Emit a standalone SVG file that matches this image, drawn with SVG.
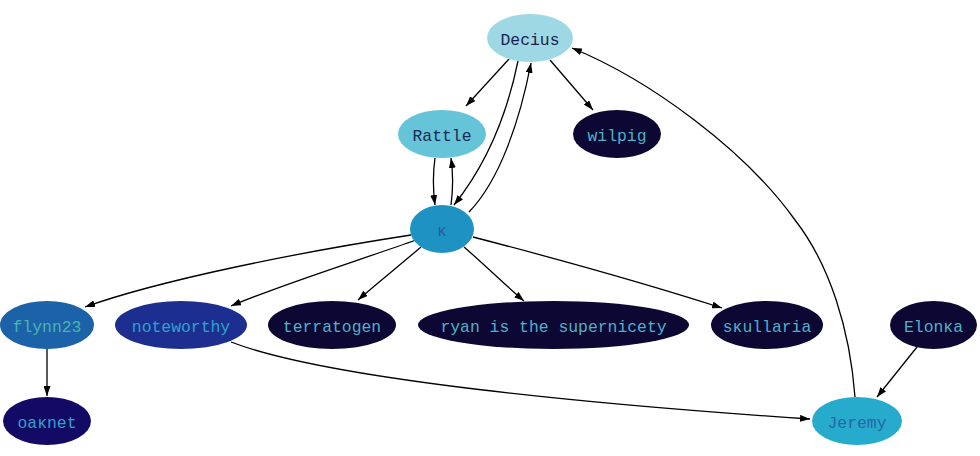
<svg xmlns="http://www.w3.org/2000/svg" width="980" height="456" viewBox="0 0 980 456">
<defs>
<marker id="ah" markerWidth="10" markerHeight="7" refX="10" refY="3.5" orient="auto" markerUnits="userSpaceOnUse">
<path d="M0,0 L10,3.5 L0,7 z" fill="#000"/>
</marker>
<style>
text{font-family:"Liberation Mono","Courier New",monospace;font-size:16.4px;text-anchor:middle;dominant-baseline:central}
.e path{fill:none;stroke:#000;stroke-width:1.3;marker-end:url(#ah)}
.dk{fill:#0c0833}
.lt{fill:#4fb1c9}
</style>
</defs>
<rect width="980" height="456" fill="#fff"/>
<g class="e" id="edges">
<path d="M509,59 L466,106"/>
<path d="M550,60 L593,110"/>
<path d="M518,61 C508,110 490,160 454,205"/>
<path d="M469,212 C500,180 520,120 531,63"/>
<path d="M435,158 C433,172 433,190 435,205"/>
<path d="M451,205 C453,190 453,172 451,158"/>
<path d="M411,235 C300,252 160,280 85,307"/>
<path d="M416,240 C360,260 280,285 231,306"/>
<path d="M421,247 C400,265 375,285 358,300"/>
<path d="M464,247 C485,265 505,285 524,301"/>
<path d="M473,237 C550,257 650,285 722,308"/>
<path d="M47,349 L47,396"/>
<path d="M231,342 C330,380 600,405 810,419"/>
<path d="M917,347 L877,397"/>
<path d="M855,397 C850,330 830,265 795,220 C745,150 650,80 572,48"/>
</g>
<g id="Decius"><ellipse cx="530" cy="38" rx="43" ry="24" fill="#9dd8e4"/><text x="530" y="40" fill="#1a1f4e">Decius</text></g>
<g id="Rattle"><ellipse cx="442" cy="134" rx="44" ry="24" fill="#66c4d8"/><text x="442" y="136" fill="#1a2a55">Rattle</text></g>
<g id="wilpig"><ellipse cx="617" cy="134" rx="44" ry="24" class="dk"/><text x="617" y="136" class="lt">wilpig</text></g>
<g id="kra"><ellipse cx="442" cy="229" rx="32" ry="24" fill="#1e93c3"/><text x="442" y="231" fill="#2a5aa6">ĸ</text></g>
<g id="flynn23"><ellipse cx="47" cy="325" rx="47" ry="24" fill="#1c62a8"/><text x="47" y="327" fill="#47b5ae">flynn23</text></g>
<g id="noteworthy"><ellipse cx="181" cy="325" rx="66" ry="24" fill="#1c2f91"/><text x="181" y="327" fill="#2ea2cc">noteworthy</text></g>
<g id="terratogen"><ellipse cx="332" cy="325" rx="64" ry="24" class="dk"/><text x="332" y="327" class="lt">terratogen</text></g>
<g id="ryan"><ellipse cx="553.5" cy="325" rx="135.5" ry="24" class="dk"/><text x="553.5" y="327" class="lt">ryan is the supernicety</text></g>
<g id="skullaria"><ellipse cx="767" cy="325" rx="56" ry="24" class="dk"/><text x="767" y="327" class="lt">sĸullaria</text></g>
<g id="Elonka"><ellipse cx="933.5" cy="325" rx="43.5" ry="24" class="dk"/><text x="933.5" y="327" class="lt">Elonĸa</text></g>
<g id="oaknet"><ellipse cx="47" cy="421" rx="44" ry="24" fill="#130a66"/><text x="47" y="423" fill="#2ea2cc">oaĸnet</text></g>
<g id="Jeremy"><ellipse cx="857" cy="421" rx="45" ry="24" fill="#26abcc"/><text x="857" y="423" fill="#2466a8">Jeremy</text></g>
</svg>
